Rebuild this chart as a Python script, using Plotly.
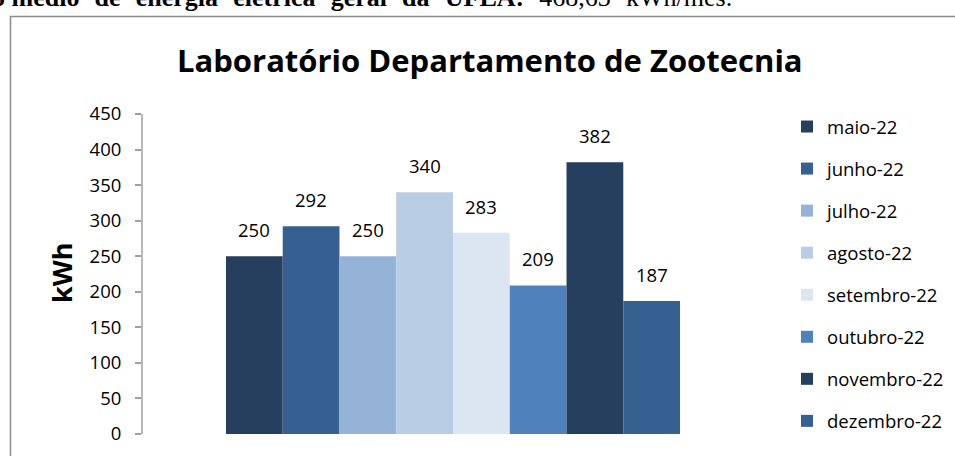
import plotly.graph_objects as go

categories = ["Laboratório"]
series_names = ["maio-22", "junho-22", "julho-22", "agosto-22", "setembro-22",
                "outubro-22", "novembro-22", "dezembro-22"]
values = [250, 292, 250, 340, 283, 209, 382, 187]
colors = ["#263f5f", "#376092", "#95b3d7", "#b9cde5", "#dce6f2",
          "#4f81bd", "#263f5f", "#376092"]
y_ticks = [0, 50, 100, 150, 200, 250, 300, 350, 400, 450]
header_bold = ["o", "médio", "de", "energia", "elétrica", "geral", "da", "UFLA:"]
header_plain = ["468,63", "kWh/mês."]

FONT = "Open Sans"
W, H = 955, 456
AX_X, AX_RIGHT = 142, 764
Y0_PX, Y450_PX = 434, 114
T, B = 20, 0
L, R = AX_X, W - AX_RIGHT
pw, ph = W - L - R, H - T - B
scale = (Y0_PX - Y450_PX) / 450.0
y_lo = -(H - B - Y0_PX) / scale
y_hi = 450 + (Y450_PX - T) / scale
BARGAP = 0.27

def px_x(p):
    return (p - L) / pw

def px_y(p):
    return (H - B - p) / ph

# justified-looking word spacing of the cropped document line above the chart
SP = " \u00a0\u200a"
header_text = ("<b>" + header_bold[0] + " " + SP.join(header_bold[1:]) + "</b>"
               + SP + SP.join(header_plain))

fig = go.Figure()
for i, (name, v, c) in enumerate(zip(series_names, values, colors)):
    fig.add_trace(go.Bar(
        x=categories, y=[v], name=name, marker=dict(color=c, line=dict(width=0)),
        legendgroup=f"g{i}", hoverinfo="name+y",
    ))

bar_w = pw * (1 - BARGAP) / len(values)
annotations = []
for i, v in enumerate(values):
    annotations.append(dict(
        text=str(v), xref="x", yref="y", x=categories[0], y=v,
        xshift=(i - (len(values) - 1) / 2) * bar_w, yshift=12,
        xanchor="center", yanchor="bottom", showarrow=False,
        font=dict(family=FONT, size=18.5, color="#000000")))

annotations += [
    dict(text="<b>Laboratório Departamento de Zootecnia</b>",
         xref="paper", yref="paper", x=px_x(490), y=px_y(60),
         xanchor="center", yanchor="middle", showarrow=False,
         font=dict(family=FONT, size=31, color="#000000")),
    dict(text="<b>kWh</b>", xref="paper", yref="paper", x=px_x(61), y=px_y(273),
         xanchor="center", yanchor="middle", textangle=-90, showarrow=False,
         font=dict(family=FONT, size=27, color="#000000")),
    dict(text=header_text,
         xref="paper", yref="paper", x=px_x(-10), y=px_y(14.5),
         xanchor="left", yanchor="bottom", showarrow=False,
         font=dict(family="Liberation Serif", size=26, color="#000000")),
]

fig.update_layout(
    width=W, height=H,
    margin=dict(l=L, r=R, t=T, b=B),
    paper_bgcolor="white", plot_bgcolor="white",
    barmode="group", bargap=BARGAP, bargroupgap=0,
    font=dict(family=FONT, size=18.5, color="#000000"),
    showlegend=True,
    legend=dict(x=px_x(787), y=px_y(108), xanchor="left", yanchor="top",
                font=dict(family=FONT, size=18.5, color="#000000"),
                tracegroupgap=15, itemwidth=30, bgcolor="rgba(0,0,0,0)"),
    xaxis=dict(visible=False),
    yaxis=dict(range=[y_lo, y_hi], tickvals=y_ticks, showgrid=False, zeroline=False,
               showline=False,
               ticks="outside", ticklen=6, tickcolor="#a0a0a0", tickwidth=1.5,
               ticklabelstandoff=10,
               tickfont=dict(family=FONT, size=18.5, color="#000000")),
    annotations=annotations,
    shapes=[
        dict(type="rect", xref="paper", yref="paper",
             x0=px_x(10.5), x1=px_x(1000), y0=px_y(500), y1=px_y(16.5),
             line=dict(color="#8c8c8c", width=1.5), fillcolor="rgba(0,0,0,0)",
             layer="below"),
        dict(type="line", xref="paper", yref="y", x0=0, x1=0,
             y0=y_ticks[0], y1=y_ticks[-1],
             line=dict(color="#a0a0a0", width=1.5)),
    ],
)

fig.write_html("out.html", config={"displayModeBar": False},
               post_script="document.body.style.margin='0';")
